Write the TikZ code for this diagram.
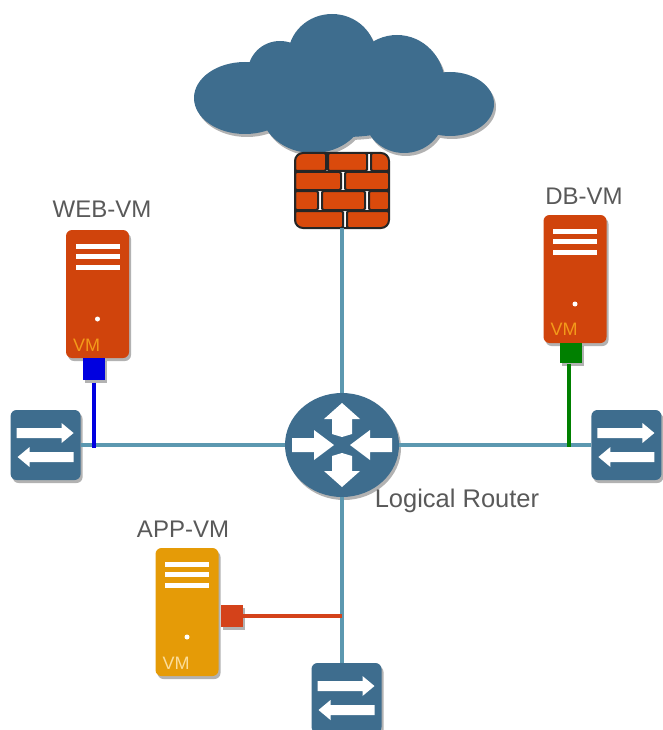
\documentclass[tikz,border=0pt]{standalone}
\usepackage{fontspec}
\setmainfont{Liberation Sans}
\usetikzlibrary{positioning, shadows, calc, shapes.geometric}

\definecolor{netblue}{HTML}{3E6D8E}
\definecolor{linkblue}{HTML}{5C98B0}
\definecolor{rust}{HTML}{D0440C}
\definecolor{brick}{HTML}{DA4A0C}
\definecolor{amber}{HTML}{E59B07}
\definecolor{vmorange}{HTML}{F39A1A}
\definecolor{vmpale}{HTML}{FBDD9A}
\definecolor{webblue}{HTML}{0000E0}
\definecolor{dbgreen}{HTML}{008000}
\definecolor{appred}{HTML}{D4421A}

\tikzset{
    softshadow/.style={drop shadow={shadow xshift=2pt, shadow yshift=-3pt, fill=black, opacity=.3}},
    server/.style={rectangle, rounded corners=6pt, minimum width=63pt, minimum height=128pt, inner sep=0pt, softshadow},
    port/.style={rectangle, minimum width=22pt, minimum height=22pt, inner sep=0pt, softshadow},
    switch/.style={rectangle, rounded corners=6pt, fill=netblue, minimum width=70pt, minimum height=70pt, inner sep=0pt, softshadow},
    router/.style={ellipse, fill=netblue, minimum width=114pt, minimum height=104pt, inner sep=0pt, softshadow},
    vmlabel/.style={text=black!65, font=\fontsize{24}{24}\selectfont, inner sep=0pt, anchor=south},
    vmtag/.style={font=\fontsize{18}{18}\selectfont, inner sep=0pt},
    link/.style={draw=linkblue, line width=3.5pt, preaction={draw=black, opacity=.18, transform canvas={yshift=-2pt}}},
    vlan/.style={line width=3.5pt},
    bricks/.style={draw=black!85, line width=2pt, fill=brick, rounded corners=1.5pt},
    swarrows/.pic={
        \fill[white] (-29,-17) -- (16,-17) -- (16,-22) -- (28,-12) -- (16,-2) -- (16,-7) -- (-29,-7) -- cycle;
        \fill[white] (28,7) -- (-16,7) -- (-16,2) -- (-28,12) -- (-16,22) -- (-16,17) -- (28,17) -- cycle;
    },
    srvmarks/.pic={
        \fill[white] (-22,-50.5) rectangle (22,-45.5);
        \fill[white] (-22,-40.5) rectangle (22,-35.5);
        \fill[white] (-22,-29.5) rectangle (22,-24.5);
        \fill[white] (0,25) circle (2.5);
    },
    rtarrows/.pic={
        \foreach \a in {0,180} {
            \fill[white, rotate=\a] (0,-42) -- (18,-26) -- (10,-26) -- (10,-11) -- (0,-8) -- (-10,-11) -- (-10,-26) -- (-18,-26) -- cycle;
            \fill[white, rotate=\a] (-50,-7) -- (-28,-7) -- (-28,-15) -- (-8,0) -- (-28,15) -- (-28,7) -- (-50,7) -- cycle;
        }
    }
}

\begin{document}
\begin{tikzpicture}[x=1pt, y=-1pt]
    \useasboundingbox (0,0) rectangle (662,730);

    % cloud
    \fill[netblue, softshadow]
        (245,98) ellipse [x radius=51, y radius=36]
        (280,72) ellipse [x radius=32, y radius=31]
        (332,56) ellipse [x radius=44, y radius=42]
        (397,85) ellipse [x radius=48, y radius=50]
        (450,104) ellipse [x radius=44, y radius=32]
        (313,110) ellipse [x radius=52, y radius=43]
        (404,115) ellipse [x radius=40, y radius=38]
        (345,95) ellipse [x radius=90, y radius=42];

    \node[router] (router) at (342,445) {};
    \node[inner sep=0pt, minimum width=94pt, minimum height=75pt] (firewall) at (342,190.5) {};
    \node[switch, left=204pt of router] (swleft) {};
    \node[switch, right=192pt of router] (swright) {};
    \node[switch] (swbottom) at (346.5,698) {};

    \node[server, fill=rust] (webvm) at (97.5,294) {};
    \node[server, fill=rust] (dbvm) at (575,279) {};
    \node[server, fill=amber] (appvm) at (187,612) {};

    \node[port, fill=webblue, below=0pt of webvm, xshift=-3.5pt] (webport) {};
    \node[port, fill=dbgreen, below=0pt of dbvm, xshift=-4pt, minimum height=20pt] (dbport) {};
    \node[port, fill=appred, right=2pt of appvm, yshift=-4pt] (appport) {};

    % firewall
    \begin{scope}
    \clip[rounded corners=8pt] (295,153) rectangle (389,228);
    \draw[bricks] (295,153) rectangle (326,171);
    \draw[bricks] (328,153) rectangle (367,171);
    \draw[bricks] (371,153) rectangle (389,171);
    \draw[bricks] (295,172) rectangle (341,190);
    \draw[bricks] (345,172) rectangle (389,190);
    \draw[bricks] (295,191) rectangle (318,210);
    \draw[bricks] (322,191) rectangle (365,210);
    \draw[bricks] (369,191) rectangle (389,210);
    \draw[bricks] (295,211) rectangle (343,228);
    \draw[bricks] (347,211) rectangle (389,228);
    \end{scope}
    \draw[draw=black!85, line width=2pt, rounded corners=8pt] (295,153) rectangle (389,228);

    \path[link]
    (firewall.south) edge (router)
    (swleft) edge (router)
    (router) edge (swright)
    (router.south) edge (router.south |- swbottom.north);

    \draw[vlan, webblue, shorten <=2pt] (webport.south) -- ($(webport.south |- swleft)+(0,3)$);
    \draw[vlan, dbgreen] ([xshift=-2pt]dbport.south) -- ($(dbport.south |- swright)+(-2,2)$);
    \draw[vlan, appred] (appport.east) -- (appport.east -| router.south);

    \pic at (router) {rtarrows};
    \pic at (swleft) {swarrows};
    \pic at (swright) {swarrows};
    \pic at (swbottom) {swarrows};
    \pic at (webvm) {srvmarks};
    \pic at (dbvm) {srvmarks};
    \pic at (appvm) {srvmarks};

    \node[vmtag, text=vmorange] (webtag) at ($(webvm)+(-11,51)$) {VM};
    \node[vmtag, text=vmorange] (dbtag) at ($(dbvm)+(-11,50)$) {VM};
    \node[vmtag, text=vmpale] (apptag) at ($(appvm)+(-11,51)$) {VM};

    \node[vmlabel, above=12pt of webvm, xshift=4.5pt] (weblabel) {WEB-VM};
    \node[vmlabel, above=10pt of dbvm, xshift=9pt] (dblabel) {DB-VM};
    \node[vmlabel, above=10pt of appvm, xshift=-4pt] (applabel) {APP-VM};
    \node[text=black!65, font=\fontsize{25.5}{26}\selectfont, inner sep=0pt] (rtlabel) at (457,501) {Logical Router};
\end{tikzpicture}
\end{document}
